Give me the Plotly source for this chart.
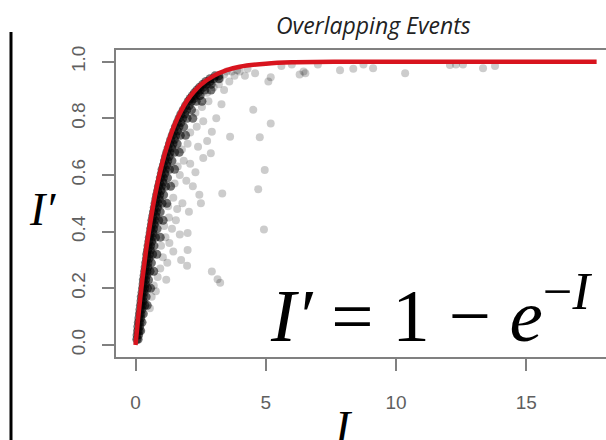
import plotly.graph_objects as go

# Tick labels
x_ticks = [0, 5, 10, 15]
y_ticks = [0.0, 0.2, 0.4, 0.6, 0.8, 1.0]
y_tick_text = ["0.0", "0.2", "0.4", "0.6", "0.8", "1.0"]

# Fitted saturation curve I' = 1 - e^(-I)
curve_x = [0, 0.1, 0.25, 0.4, 0.5, 0.75, 1.0, 1.25, 1.5, 1.75, 2.0, 2.5, 3.0,
           3.5, 4.0, 5.0, 6.0, 8.0, 10.0, 12.5, 15.0, 17.7]
curve_y = [0, 0.095, 0.221, 0.330, 0.393, 0.528, 0.632, 0.713, 0.777, 0.826,
           0.865, 0.918, 0.950, 0.970, 0.982, 0.993, 0.998, 1.0, 1.0, 1.0, 1.0, 1.0]

# Dense band of events just under the curve
core_x = [0.05, 0.10,
          0.08, 0.14, 0.20,
          0.11, 0.17, 0.25,
          0.15, 0.21, 0.30,
          0.19, 0.26, 0.36, 0.45,
          0.22, 0.30, 0.41,
          0.27, 0.35, 0.46, 0.58,
          0.30, 0.39, 0.50,
          0.35, 0.44, 0.56, 0.70,
          0.39, 0.48, 0.61,
          0.43, 0.53, 0.66, 0.82,
          0.48, 0.58, 0.71,
          0.53, 0.63, 0.77, 0.95,
          0.58, 0.69, 0.83,
          0.63, 0.74, 0.89, 1.06,
          0.69, 0.80, 0.95,
          0.75, 0.87, 1.02, 1.20,
          0.81, 0.93, 1.08,
          0.88, 1.00, 1.16, 1.35,
          0.95, 1.07, 1.23,
          1.02, 1.15, 1.31, 1.50,
          1.11, 1.24, 1.40,
          1.20, 1.33, 1.50, 1.68,
          1.30, 1.44, 1.60,
          1.41, 1.55, 1.72, 1.92,
          1.53, 1.67, 1.85,
          1.67, 1.81, 1.98, 2.20,
          1.83, 1.97, 2.15,
          2.02, 2.15, 2.33, 2.55,
          2.18, 2.30, 2.48,
          2.36, 2.48, 2.66, 2.90,
          2.58, 2.72, 2.90,
          2.86, 3.00, 3.20,
          # in-between rows
          0.06, 0.12, 0.09, 0.16, 0.13, 0.20, 0.17, 0.24, 0.21, 0.29,
          0.25, 0.33, 0.29, 0.38, 0.33, 0.42, 0.37, 0.47, 0.42, 0.52,
          0.46, 0.57, 0.51, 0.62, 0.56, 0.67, 0.61, 0.72, 0.66, 0.78,
          0.72, 0.84, 0.78, 0.91, 0.85, 0.98, 0.92, 1.05, 0.99, 1.12,
          1.07, 1.20, 1.15, 1.29, 1.25, 1.39, 1.35, 1.49, 1.47, 1.61,
          1.60, 1.74, 1.74, 1.89, 1.92, 2.06, 2.10, 2.24, 2.26, 2.40,
          2.46, 2.60, 2.70, 2.85, 3.05, 3.20]
core_y = [0.02, 0.02,
          0.05, 0.05, 0.05,
          0.08, 0.08, 0.08,
          0.11, 0.11, 0.11,
          0.14, 0.14, 0.14, 0.14,
          0.17, 0.17, 0.17,
          0.20, 0.20, 0.20, 0.20,
          0.23, 0.23, 0.23,
          0.26, 0.26, 0.26, 0.26,
          0.29, 0.29, 0.29,
          0.32, 0.32, 0.32, 0.32,
          0.35, 0.35, 0.35,
          0.38, 0.38, 0.38, 0.38,
          0.41, 0.41, 0.41,
          0.44, 0.44, 0.44, 0.44,
          0.47, 0.47, 0.47,
          0.50, 0.50, 0.50, 0.50,
          0.53, 0.53, 0.53,
          0.56, 0.56, 0.56, 0.56,
          0.59, 0.59, 0.59,
          0.62, 0.62, 0.62, 0.62,
          0.65, 0.65, 0.65,
          0.68, 0.68, 0.68, 0.68,
          0.71, 0.71, 0.71,
          0.74, 0.74, 0.74, 0.74,
          0.77, 0.77, 0.77,
          0.80, 0.80, 0.80, 0.80,
          0.83, 0.83, 0.83,
          0.86, 0.86, 0.86, 0.86,
          0.88, 0.88, 0.88,
          0.90, 0.90, 0.90, 0.90,
          0.92, 0.92, 0.92,
          0.94, 0.94, 0.94,
          0.035, 0.035, 0.065, 0.065, 0.095, 0.095, 0.125, 0.125, 0.155, 0.155,
          0.185, 0.185, 0.215, 0.215, 0.245, 0.245, 0.275, 0.275, 0.305, 0.305,
          0.335, 0.335, 0.365, 0.365, 0.395, 0.395, 0.425, 0.425, 0.455, 0.455,
          0.485, 0.485, 0.515, 0.515, 0.545, 0.545, 0.575, 0.575, 0.605, 0.605,
          0.635, 0.635, 0.665, 0.665, 0.695, 0.695, 0.725, 0.725, 0.755, 0.755,
          0.785, 0.785, 0.815, 0.815, 0.845, 0.845, 0.870, 0.870, 0.890, 0.890,
          0.910, 0.910, 0.930, 0.930, 0.950, 0.950]

# Scattered events further from the curve
spread_x = [0.55, 0.62, 0.70, 0.78, 0.85, 0.95, 1.18, 1.05, 1.22, 0.98,
            1.15, 1.30, 1.45, 1.10, 1.28, 1.40, 1.55, 1.70, 2.00, 2.00,
            1.98, 1.75, 1.25, 1.45, 1.60, 1.80, 2.05, 2.51, 2.45, 2.20,
            1.50, 1.70, 1.95, 2.30, 3.33, 1.62, 1.85, 2.10, 2.60, 2.89,
            1.78, 2.00, 2.40, 2.75, 2.93, 3.63, 2.10, 2.35, 2.60, 3.10,
            2.30, 2.55, 2.80, 3.30, 2.45, 2.75, 3.00, 3.40, 3.60, 3.25,
            3.80, 4.00, 4.20, 4.59, 3.50, 4.52, 4.77, 5.19, 4.96, 4.71,
            4.93, 3.15, 2.93, 3.25, 5.19, 5.10, 6.30, 6.52, 6.45, 7.00,
            7.85, 8.36, 8.75, 9.12, 10.35, 12.07, 12.30, 12.57, 13.34, 13.80,
            5.60, 6.00, 2.90, 3.10, 3.40, 3.70, 3.20, 3.90, 4.30]
spread_y = [0.13, 0.17, 0.21, 0.19, 0.24, 0.27, 0.23, 0.31, 0.29, 0.35,
            0.38, 0.36, 0.33, 0.42, 0.45, 0.41, 0.44, 0.39, 0.395, 0.335,
            0.28, 0.30, 0.49, 0.52, 0.48, 0.50, 0.47, 0.50, 0.53, 0.56,
            0.57, 0.60, 0.58, 0.61, 0.535, 0.63, 0.65, 0.64, 0.66, 0.677,
            0.69, 0.71, 0.70, 0.72, 0.753, 0.735, 0.75, 0.77, 0.79, 0.80,
            0.82, 0.84, 0.86, 0.85, 0.88, 0.89, 0.91, 0.90, 0.93, 0.94,
            0.95, 0.965, 0.95, 0.959, 0.965, 0.83, 0.733, 0.782, 0.618, 0.55,
            0.408, 0.232, 0.259, 0.22, 0.945, 0.93, 0.955, 0.959, 0.965, 0.99,
            0.97, 0.975, 0.99, 0.977, 0.959, 0.988, 0.99, 0.99, 0.977, 0.985,
            0.985, 0.99, 0.93, 0.945, 0.955, 0.965, 0.92, 0.97, 0.975]

GRAY = "#808080"

fig = go.Figure()
fig.add_trace(go.Scatter(x=spread_x, y=spread_y, mode="markers",
                         marker=dict(size=8, color="rgba(0,0,0,0.2)", line=dict(width=0)),
                         hoverinfo="skip"))
fig.add_trace(go.Scatter(x=core_x, y=core_y, mode="markers",
                         marker=dict(size=9, color="rgba(0,0,0,0.55)", line=dict(width=0)),
                         hoverinfo="skip"))
fig.add_trace(go.Scatter(x=curve_x, y=curve_y, mode="lines",
                         line=dict(color="#d8141e", width=4.5, shape="spline"),
                         hoverinfo="skip"))

axis_common = dict(showgrid=False, zeroline=False, showline=True, linecolor=GRAY,
                   linewidth=2, ticks="outside", ticklen=12, tickwidth=2,
                   tickcolor=GRAY, tickfont=dict(family="Liberation Sans", size=19,
                                                 color="#5f5f5f"))

fig.update_layout(
    width=606, height=440,
    margin=dict(l=116, r=0, t=50, b=83),
    paper_bgcolor="white", plot_bgcolor="white",
    showlegend=False,
    xaxis=dict(range=[-0.749, 18.06], tickvals=x_ticks, mirror=True,
               ticklabelstandoff=15, **axis_common),
    yaxis=dict(range=[-0.0424, 1.0413], tickvals=y_ticks, ticktext=y_tick_text,
               tickangle=-90, ticklabelstandoff=9, **axis_common),
    annotations=[
        dict(text="<i>Overlapping Events</i>", xref="paper", yref="paper",
             x=0.5245, y=1.081, showarrow=False, xanchor="center", yanchor="middle",
             font=dict(family="Open Sans", size=23, color="#222222")),
        dict(text="<i>I′</i>", xref="paper", yref="paper", x=-0.151, y=0.479,
             showarrow=False, xanchor="center", yanchor="middle",
             font=dict(family="Liberation Serif", size=46, color="black")),
        dict(text="<i>I</i>", xref="paper", yref="paper", x=0.465, y=-0.23,
             showarrow=False, xanchor="center", yanchor="middle",
             font=dict(family="Liberation Serif", size=46, color="black")),
        dict(text="<i>I′</i> = 1 − <i>e</i><sup>−<i>I</i></sup>", xref="paper",
             yref="paper", x=(268 - 116) / 490, y=(357 - 359) / 307,
             showarrow=False, xanchor="left", yanchor="bottom",
             font=dict(family="Liberation Serif", size=75, color="black")),
    ],
    shapes=[
        dict(type="line", xref="paper", yref="paper", x0=-0.2143, x1=-0.2143,
             y0=1.0586, y1=-0.27, line=dict(color="black", width=3)),
    ],
)

fig.write_html("out.html")
